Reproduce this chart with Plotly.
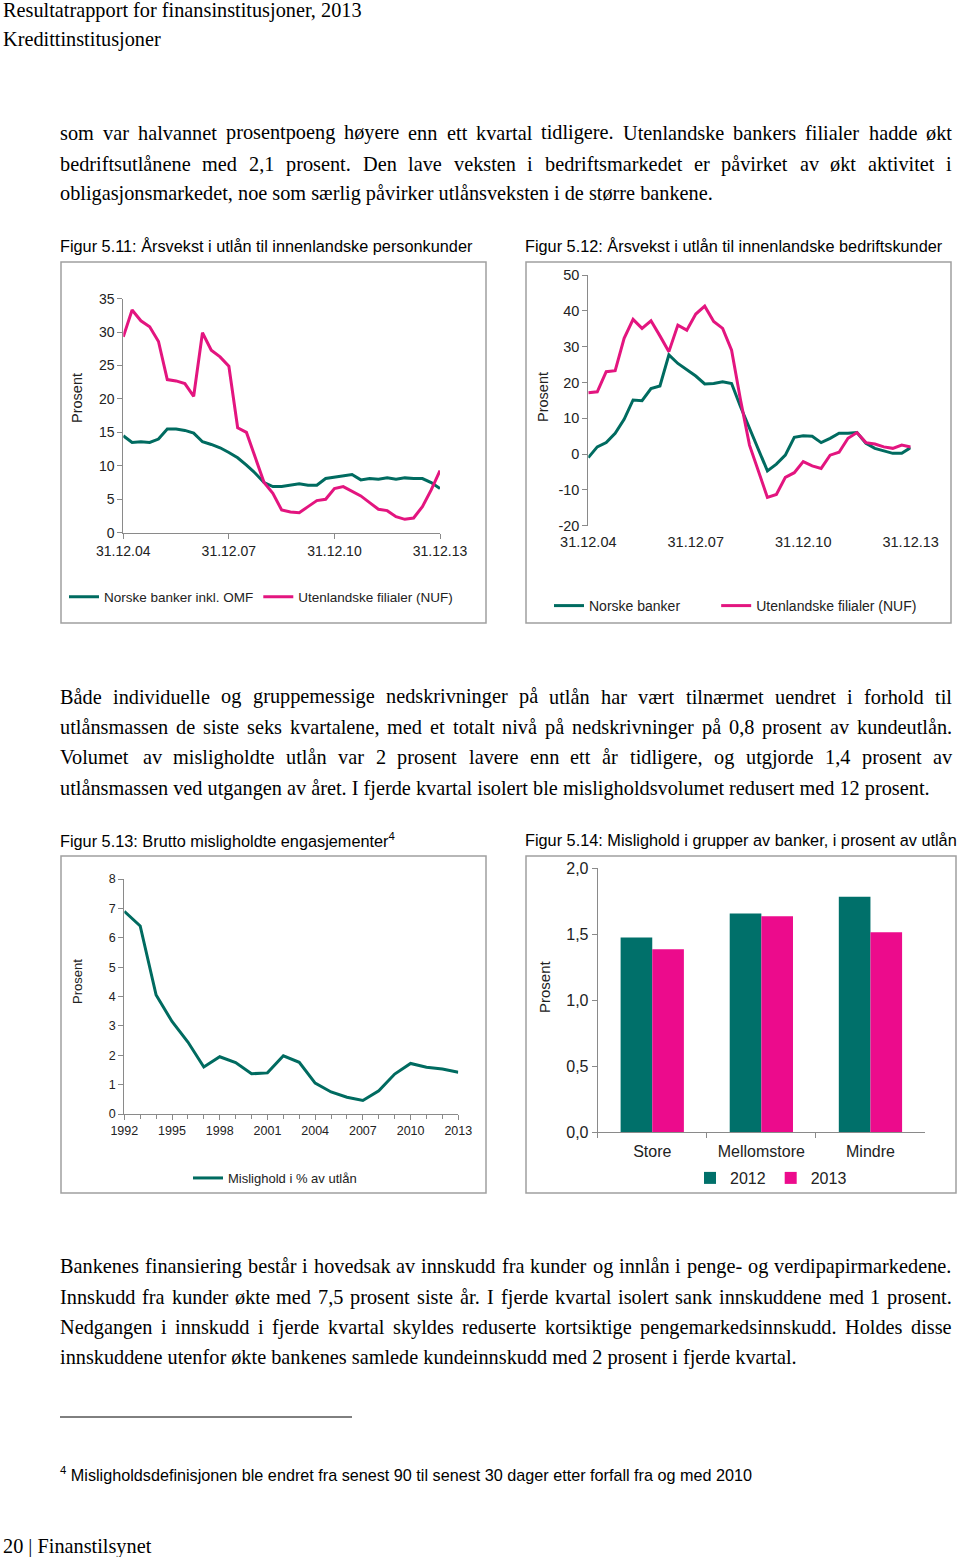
import plotly.graph_objects as go

W, H = 960, 1557

# ---------------- data ----------------
q_ends = ["31.03", "30.06", "30.09", "31.12"]
quarters = ["31.12.04"] + [f"{q_ends[i % 4]}.{5 + i // 4:02d}" for i in range(36)]
quarter_ticks = ["31.12.04", "31.12.07", "31.12.10", "31.12.13"]

# Figur 5.11 - personkunder
pers_norske = [14.5, 13.5, 13.6, 13.5, 14.0, 15.5, 15.5, 15.3, 14.9, 13.6, 13.2, 12.7, 12.0,
               11.2, 10.1, 8.9, 7.5, 6.9, 6.9, 7.1, 7.3, 7.1, 7.1, 8.1, 8.3, 8.5, 8.7, 7.9,
               8.1, 8.0, 8.2, 8.0, 8.2, 8.1, 8.1, 7.5, 6.6]
pers_nuf = [29.3, 33.3, 31.7, 30.8, 28.6, 22.9, 22.7, 22.3, 20.4, 29.9, 27.3, 26.3, 24.9,
            15.7, 15.0, 11.4, 7.5, 5.9, 3.4, 3.1, 3.0, 3.9, 4.8, 5.0, 6.6, 6.9, 6.2, 5.5,
            4.5, 3.5, 3.3, 2.4, 2.0, 2.2, 3.9, 6.4, 9.3]

# Figur 5.12 - bedriftskunder
bed_norske = [-1.0, 2.0, 3.2, 5.8, 9.7, 15.1, 14.9, 18.3, 19.0, 27.7, 25.3, 23.5, 21.8,
              19.6, 19.7, 20.2, 19.7, 13.2, 7.4, 1.2, -4.7, -2.8, -0.3, 4.7, 5.1, 5.0, 3.2,
              4.4, 5.8, 5.8, 6.0, 3.0, 1.6, 0.9, 0.2, 0.2, 1.8]
bed_nuf = [17.1, 17.4, 23.0, 23.3, 32.3, 37.6, 35.1, 37.2, 33.0, 28.6, 36.0, 34.6, 39.1,
           41.3, 37.0, 35.1, 29.0, 15.1, 2.5, -4.5, -12.1, -11.3, -6.5, -5.2, -2.1, -3.3,
           -4.0, -0.3, 0.5, 4.4, 6.0, 3.2, 2.8, 2.0, 1.6, 2.5, 2.0]
bed_ticks = [-20, -10, 0, 10, 20, 30, 40, 50]
bed_ticktext = ["-20", "-10", "0", "10", "20", "30", "40", "50"]

# Figur 5.13 - mislighold
years = list(range(1992, 2014))
year_ticks = list(range(1992, 2014, 3))
mislighold = [6.9, 6.4, 4.05, 3.15, 2.45, 1.6, 1.95, 1.75, 1.37, 1.4, 1.98, 1.76, 1.05,
              0.75, 0.57, 0.46, 0.79, 1.36, 1.72, 1.59, 1.53, 1.42]

# Figur 5.14 - grupper av banker
groups = ["Store", "Mellomstore", "Mindre"]
mis_2012 = [1.475, 1.657, 1.785]
mis_2013 = [1.386, 1.636, 1.515]
bar_ticks = [0, 0.5, 1.0, 1.5, 2.0]
bar_ticktext = ["0,0", "0,5", "1,0", "1,5", "2,0"]

# ---------------- styles ----------------
GREEN = "#006b60"
PINK = "#e3157f"
BAR_GREEN = "#00706a"
BAR_PINK = "#ec0b8c"
AX = "#8a8a8a"
TXT = "#222222"
SANS = "Liberation Sans, Arial, sans-serif"
SERIF = "Liberation Serif, Times New Roman, serif"
NBSP = "\u00a0"


def px(x):
    return x / W


def py(y):
    return 1 - y / H


fig = go.Figure()

fig.add_trace(go.Scatter(x=quarters, y=pers_norske, mode="lines", name="Norske banker inkl. OMF",
                         line=dict(color=GREEN, width=3), xaxis="x", yaxis="y", legend="legend"))
fig.add_trace(go.Scatter(x=quarters, y=pers_nuf, mode="lines", name="Utenlandske filialer (NUF)",
                         line=dict(color=PINK, width=3), xaxis="x", yaxis="y", legend="legend"))

fig.add_trace(go.Scatter(x=quarters, y=bed_norske, mode="lines", name="Norske banker" + NBSP * 8,
                         line=dict(color=GREEN, width=3), xaxis="x2", yaxis="y2", legend="legend2"))
fig.add_trace(go.Scatter(x=quarters, y=bed_nuf, mode="lines", name="Utenlandske filialer (NUF)",
                         line=dict(color=PINK, width=3), xaxis="x2", yaxis="y2", legend="legend2"))

fig.add_trace(go.Scatter(x=years, y=mislighold, mode="lines", name="Mislighold i % av utlån",
                         line=dict(color=GREEN, width=3), xaxis="x3", yaxis="y3", legend="legend3"))

fig.add_trace(go.Bar(x=groups, y=mis_2012, name="2012", marker=dict(color=BAR_GREEN, line=dict(width=0)),
                     xaxis="x4", yaxis="y4", legend="legend4"))
fig.add_trace(go.Bar(x=groups, y=mis_2013, name="2013", marker=dict(color=BAR_PINK, line=dict(width=0)),
                     xaxis="x4", yaxis="y4", legend="legend4"))

axis_common = dict(showline=True, linecolor=AX, linewidth=1, ticks="outside", ticklen=5,
                   tickcolor=AX, showgrid=False, zeroline=False, fixedrange=True, automargin=False)

fig.update_layout(
    template="none",
    width=W, height=H, margin=dict(l=0, r=0, t=0, b=0, pad=0, autoexpand=False),
    paper_bgcolor="white", plot_bgcolor="rgba(0,0,0,0)",
    bargap=0.42, bargroupgap=0, barmode="group",
    font=dict(family=SANS, color=TXT),
    xaxis=dict(axis_common, domain=[px(123.3), px(440)], anchor="y", type="category",
               range=[0, 36], tickvals=quarter_ticks, tickfont=dict(size=14, color=TXT)),
    yaxis=dict(axis_common, domain=[py(532.7), py(298.7)], anchor="x", range=[0, 35], dtick=5,
               tickfont=dict(size=14, color=TXT)),
    xaxis2=dict(domain=[px(588.3), px(910.7)], anchor="y2", type="category", range=[0, 36],
                tickvals=quarter_ticks, showline=False, ticks="", showgrid=False, zeroline=False,
                tickfont=dict(size=14.5, color=TXT), ticklabelstandoff=6, automargin=False,
                fixedrange=True),
    xaxis5=dict(domain=[px(588.3), px(910.7)], overlaying="x2", anchor="free", position=py(454),
                range=[0, 36], tickvals=[0, 12, 24, 36], showticklabels=False,
                showline=True, linecolor=AX, ticks="outside", ticklen=5, tickcolor=AX,
                showgrid=False, zeroline=False, automargin=False, fixedrange=True),
    yaxis2=dict(axis_common, domain=[py(525.7), py(275)], anchor="x2", range=[-20, 50],
                tickvals=bed_ticks, ticktext=bed_ticktext, tickfont=dict(size=14.5, color=TXT)),
    xaxis3=dict(axis_common, domain=[px(124.3), px(458.3)], anchor="y3", range=[1992, 2013],
                tickvals=year_ticks, tickfont=dict(size=12.5, color=TXT),
                minor=dict(dtick=1, tick0=1992, ticks="outside", ticklen=4, tickcolor=AX)),
    yaxis3=dict(axis_common, domain=[py(1114), py(879)], anchor="x3", range=[0, 8], dtick=1,
                tickfont=dict(size=12.5, color=TXT)),
    xaxis4=dict(axis_common, domain=[px(597.7), px(925)], anchor="y4", type="category",
                range=[-0.5, 2.5], tickson="boundaries", tickfont=dict(size=16, color=TXT),
                ticklabelstandoff=4),
    yaxis4=dict(axis_common, domain=[py(1132.3), py(868.3)], anchor="x4", range=[0, 2],
                tickvals=bar_ticks, ticktext=bar_ticktext, tickfont=dict(size=16, color=TXT)),
    legend=dict(x=px(64), y=py(597), xanchor="left", yanchor="middle", orientation="h",
                font=dict(size=13.5, color=TXT), bgcolor="rgba(0,0,0,0)", itemclick=False),
    legend2=dict(x=px(549), y=py(606), xanchor="left", yanchor="middle", orientation="h",
                 font=dict(size=14, color=TXT), bgcolor="rgba(0,0,0,0)", itemclick=False),
    legend3=dict(x=px(188), y=py(1178), xanchor="left", yanchor="middle", orientation="h",
                 font=dict(size=13, color=TXT), bgcolor="rgba(0,0,0,0)", itemclick=False),
    legend4=dict(x=px(690), y=py(1178), xanchor="left", yanchor="middle", orientation="h",
                 font=dict(size=16, color=TXT), bgcolor="rgba(0,0,0,0)", itemclick=False),
    showlegend=True,
)

# ---------------- page text ----------------
TWID = {
    'a': 444, 'b': 500, 'c': 444, 'd': 500, 'e': 444, 'f': 333, 'g': 500, 'h': 500, 'i': 278,
    'j': 278, 'k': 500, 'l': 278, 'm': 778, 'n': 500, 'o': 500, 'p': 500, 'q': 500, 'r': 333,
    's': 389, 't': 278, 'u': 500, 'v': 500, 'w': 722, 'x': 500, 'y': 500, 'z': 444,
    'A': 722, 'B': 667, 'C': 667, 'D': 722, 'E': 611, 'F': 556, 'G': 722, 'H': 722, 'I': 333,
    'J': 389, 'K': 722, 'L': 611, 'M': 889, 'N': 722, 'O': 722, 'P': 556, 'Q': 722, 'R': 667,
    'S': 556, 'T': 611, 'U': 722, 'V': 722, 'W': 944, 'X': 722, 'Y': 722, 'Z': 611,
    'å': 444, 'ø': 500, 'æ': 667, 'Å': 722, 'Ø': 722, 'Æ': 889,
    ' ': 250, '.': 250, ',': 250, '-': 333, ':': 278, ';': 278, '(': 333, ')': 333, '%': 833,
}
for d in "0123456789":
    TWID[d] = 500

BODY = 20.3


def text_w(s, size):
    return sum(TWID.get(c, 500) for c in s) / 1000 * size


annotations = []


def add_text(text, x, y, size, family, xanchor="left"):
    annotations.append(dict(text=text, x=px(x - 2), y=py(y), xref="paper", yref="paper",
                            xanchor=xanchor, yanchor="middle", showarrow=False,
                            font=dict(size=size, family=family, color="#000000")))


def add_line(text, y, justify, x0=60, x1=952, size=BODY):
    words = text.split(" ")
    if not justify:
        add_text(text, x0, y, size, SERIF)
        return
    widths = [text_w(w, size) for w in words]
    gap = (x1 - x0 - sum(widths)) / (len(words) - 1)
    x = x0
    for w, wd in zip(words, widths):
        add_text(w, x, y, size, SERIF)
        x += wd + gap


add_text("Resultatrapport for finansinstitusjoner, 2013", 3, 10, BODY, SERIF)
add_text("Kredittinstitusjoner", 3, 40, BODY, SERIF)

para1 = [
    ("som var halvannet prosentpoeng høyere enn ett kvartal tidligere. Utenlandske bankers filialer hadde økt", 133, True),
    ("bedriftsutlånene med 2,1 prosent. Den lave veksten i bedriftsmarkedet er påvirket av økt aktivitet i", 164, True),
    ("obligasjonsmarkedet, noe som særlig påvirker utlånsveksten i de større bankene.", 194, False),
]
para2 = [
    ("Både individuelle og gruppemessige nedskrivninger på utlån har vært tilnærmet uendret i forhold til", 697, True),
    ("utlånsmassen de siste seks kvartalene, med et totalt nivå på nedskrivninger på 0,8 prosent av kundeutlån.", 727, True),
    ("Volumet av misligholdte utlån var 2 prosent lavere enn ett år tidligere, og utgjorde 1,4 prosent av", 757, True),
    ("utlånsmassen ved utgangen av året. I fjerde kvartal isolert ble misligholdsvolumet redusert med 12 prosent.", 788, False),
]
para3 = [
    ("Bankenes finansiering består i hovedsak av innskudd fra kunder og innlån i penge- og verdipapirmarkedene.", 1266, True),
    ("Innskudd fra kunder økte med 7,5 prosent siste år. I fjerde kvartal isolert sank innskuddene med 1 prosent.", 1297, True),
    ("Nedgangen i innskudd i fjerde kvartal skyldes reduserte kortsiktige pengemarkedsinnskudd. Holdes disse", 1327, True),
    ("innskuddene utenfor økte bankenes samlede kundeinnskudd med 2 prosent i fjerde kvartal.", 1357, False),
]
for t, y, j in para1 + para2 + para3:
    add_line(t, y, j)

add_text("Figur 5.11: Årsvekst i utlån til innenlandske personkunder", 60, 246, 16.3, SANS)
add_text("Figur 5.12: Årsvekst i utlån til innenlandske bedriftskunder", 525, 246, 16.3, SANS)
add_text("Figur 5.13: Brutto misligholdte engasjementer<sup>4</sup>", 60, 840, 16.3, SANS)
add_text("Figur 5.14: Mislighold i grupper av banker, i prosent av utlån", 525, 840, 16.3, SANS)

add_text("<sup>4</sup> Misligholdsdefinisjonen ble endret fra senest 90 til senest 30 dager etter forfall fra og med 2010",
         60, 1474, 16.2, SANS)
add_text("20 | Finanstilsynet", 3, 1546, BODY, SERIF)

# axis titles
for (x, y, s) in [(77, 398, 14.5), (543, 397, 14.5), (77, 982, 13), (544, 987, 15)]:
    annotations.append(dict(text="Prosent", x=px(x), y=py(y), xref="paper", yref="paper",
                            xanchor="center", yanchor="middle", showarrow=False, textangle=-90,
                            font=dict(size=s, family=SANS, color=TXT)))

fig.update_layout(annotations=annotations)

# chart frames and footnote rule
shapes = []
for (x0, y0, x1, y1) in [(61, 262, 486, 623), (526, 262, 951, 623), (61, 856, 486, 1193), (526, 856, 956, 1193)]:
    shapes.append(dict(type="rect", xref="paper", yref="paper", x0=px(x0), x1=px(x1), y0=py(y1), y1=py(y0),
                       line=dict(color="#a0a0a0", width=1.5), fillcolor="rgba(0,0,0,0)", layer="below"))
shapes.append(dict(type="line", xref="paper", yref="paper", x0=px(60), x1=px(352), y0=py(1417), y1=py(1417),
                   line=dict(color="#000000", width=1)))
fig.update_layout(shapes=shapes)

fig.write_html("out.html", config={"displayModeBar": False},
               post_script="document.body.style.margin='0px';")
